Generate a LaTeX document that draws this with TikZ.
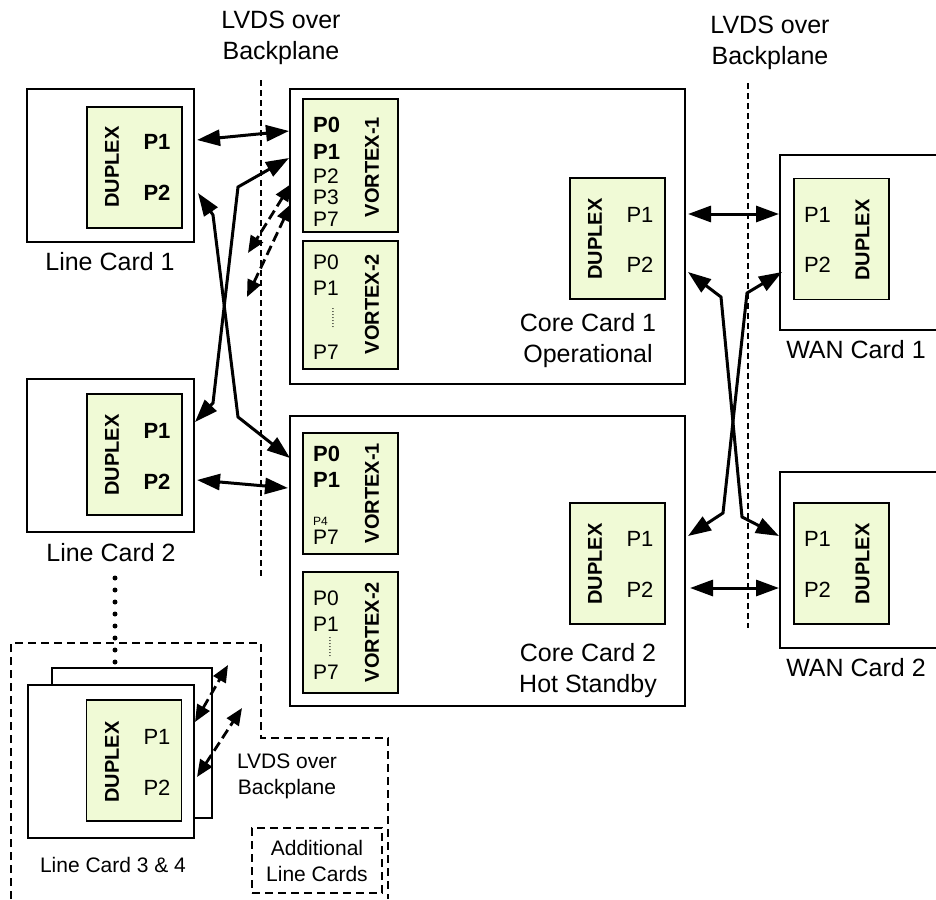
\documentclass[tikz,border=0pt]{standalone}
\usepackage{fontspec}
\setmainfont{Liberation Sans}
\usetikzlibrary{arrows.meta}
\definecolor{chipfill}{RGB}{240,250,214}
\newcommand{\bigfont}{\fontsize{25}{31}\selectfont}
\newcommand{\midfont}{\fontsize{21}{26}\selectfont}

\begin{document}
\begin{tikzpicture}[x=1pt, y=-1pt,
  card style/.style={draw, line width=1.3pt, inner sep=0pt, fill=white},
  chip style/.style={draw, line width=1.7pt, fill=chipfill, inner sep=0pt, minimum width=95, minimum height=121},
  name style/.style={inner sep=0pt, align=center, font=\bigfont},
  small style/.style={inner sep=0pt, align=center, font=\midfont},
  chip title/.style={inner sep=0pt, rotate=90, font=\bfseries\fontsize{20}{24}\selectfont},
  port style/.style={inner sep=0pt, font=\fontsize{22}{26}\selectfont},
  bold port/.style={inner sep=0pt, font=\bfseries\fontsize{22}{26}\selectfont},
  list style/.style={inner sep=0pt, anchor=west, font=\fontsize{21}{25}\selectfont},
  bold list/.style={inner sep=0pt, anchor=west, font=\bfseries\fontsize{22}{26}\selectfont},
  backplane/.style={line width=1.3pt, dash pattern=on 6pt off 4pt},
  region style/.style={line width=1.3pt, dash pattern=on 8pt off 5pt},
  link style/.style={line width=3pt, {Triangle[length=23pt,width=16pt]}-{Triangle[length=23pt,width=16pt]}},
  lvds dashed/.style={line width=2.8pt, dash pattern=on 10pt off 5pt, {Triangle[length=17pt,width=14pt]}-{Triangle[length=17pt,width=14pt]}}]
	\clip (0,0) rectangle (936,899);
	% line cards
	\node[card style, minimum width=167, minimum height=153] (LC1) at (110.5,165.5) {};
	\node[chip style] (LD1) at (134.5,167.5) {};
	\node[chip title] (LD1t) at (112,167) {DUPLEX};
	\node[bold port] (LD1a) at (157,142) {P1};
	\node[bold port] (LD1b) at (157,193) {P2};
	\node[name style] (LC1n) at (110,262) {Line Card 1};
	\node[card style, minimum width=167, minimum height=153] (LC2) at (110.5,455.5) {};
	\node[chip style] (LD2) at (134.5,454.5) {};
	\node[chip title] (LD2t) at (112,455) {DUPLEX};
	\node[bold port] (LD2a) at (157,431) {P1};
	\node[bold port] (LD2b) at (157,482) {P2};
	\node[name style] (LC2n) at (111,553) {Line Card 2};
	\node[card style, minimum width=160, minimum height=150] (LC4) at (132,743) {};
	\node[card style, minimum width=166, minimum height=153] (LC3) at (111,761.5) {};
	\node[chip style] (LD3) at (134,760.5) {};
	\node[chip title] (LD3t) at (112,762) {DUPLEX};
	\node[port style] (LD3a) at (157,737) {P1};
	\node[port style] (LD3b) at (157,788) {P2};
	\node[small style] (LC3n) at (113,865) {Line Card 3 \& 4};
	% core cards
	\node[card style, minimum width=395, minimum height=295] (CC1) at (487.5,236.5) {};
	\node[chip style, minimum height=133] (CV11) at (350.5,165.5) {};
	\node[chip title] (CV11t) at (372,167) {VORTEX-1};
	\node[bold list] (CV11p0) at (313,125) {P0};
	\node[bold list] (CV11p1) at (313,152) {P1};
	\foreach \p/\y in {2/176, 3/197, 7/219}
	\node[list style] (CV11p\p) at (313,\y) {P\p};
	\node[chip style, minimum height=128] (CV12) at (350.5,305) {};
	\node[chip title] (CV12t) at (372,304) {VORTEX-2};
	\foreach \p/\y in {0/262, 1/288, 7/352}
	\node[list style] (CV12p\p) at (313,\y) {P\p};
	\node[inner sep=0pt, rotate=90, font=\fontsize{10.5}{11}\selectfont] (CV12d) at (333,318) {.......};
	\node[chip style] (CD1) at (617.5,238.5) {};
	\node[chip title] (CD1t) at (595,239) {DUPLEX};
	\node[port style] (CD1a) at (640,215) {P1};
	\node[port style] (CD1b) at (640,265) {P2};
	\node[name style, anchor=north] (CC1n) at (588,313) {Core Card 1\\Operational};
	\node[card style, minimum width=395, minimum height=290] (CC2) at (487.5,561) {};
	\node[chip style] (CV21) at (350.5,493.5) {};
	\node[chip title] (CV21t) at (372,493) {VORTEX-1};
	\node[bold list] (CV21p0) at (313,454) {P0};
	\node[bold list] (CV21p1) at (313,480) {P1};
	\node[list style, font=\fontsize{12}{13}\selectfont] (CV21p4) at (313,521) {P4};
	\node[list style] (CV21p7) at (313,537) {P7};
	\node[chip style] (CV22) at (350.5,632.5) {};
	\node[chip title] (CV22t) at (372,632) {VORTEX-2};
	\foreach \p/\y in {0/598, 1/624, 7/672}
	\node[list style] (CV22p\p) at (313,\y) {P\p};
	\node[inner sep=0pt, rotate=90, font=\fontsize{10.5}{11}\selectfont] (CV22d) at (330,647) {.......};
	\node[chip style] (CD2) at (617.5,563.5) {};
	\node[chip title] (CD2t) at (595,564) {DUPLEX};
	\node[port style] (CD2a) at (640,539) {P1};
	\node[port style] (CD2b) at (640,590) {P2};
	\node[name style, anchor=north] (CC2n) at (588,643) {Core Card 2\\Hot Standby};
	% WAN cards
	\node[card style, minimum width=167, minimum height=175] (WC1) at (863.5,242.5) {};
	\node[chip style] (WD1) at (841.5,239) {};
	\node[chip title] (WD1t) at (862.5,240) {DUPLEX};
	\node[port style] (WD1a) at (817.5,215) {P1};
	\node[port style] (WD1b) at (817.5,265) {P2};
	\node[name style] (WC1n) at (856,350) {WAN Card 1};
	\node[card style, minimum width=167, minimum height=176] (WC2) at (863.5,560) {};
	\node[chip style] (WD2) at (841.5,563.5) {};
	\node[chip title] (WD2t) at (862.5,564) {DUPLEX};
	\node[port style] (WD2a) at (817.5,539) {P1};
	\node[port style] (WD2b) at (817.5,590) {P2};
	\node[name style] (WC2n) at (856,668) {WAN Card 2};
	% backplanes
	\node[name style, anchor=north] (BP1) at (281,11) {LVDS over\\Backplane};
	\node[name style, anchor=north] (BP2) at (770,16) {LVDS over\\Backplane};
	\node[small style, anchor=north] (BP3) at (287,754) {LVDS over\\Backplane};
	\draw[backplane] (261,80) -- (261,578);
	\draw[backplane] (748,83) -- (748,628);
	\draw[region style] (11,899) -- (11,643) -- (261,643) -- (261,738) -- (388,738) -- (388,899);
	\node[small style, draw, region style, minimum width=130, minimum height=65] (ADD) at (317,860.5) {Additional\\Line Cards};
	\draw[line width=5pt, line cap=round, dash pattern=on 0pt off 12pt] (115,578) -- (115,662);
	% port points
	\coordinate (lc1a) at (197,140);
	\coordinate (lc1b) at (198,193);
	\coordinate (lc2a) at (195,422);
	\coordinate (lc2b) at (197,480);
	\coordinate (lc3a) at (195,722);
	\coordinate (lc3b) at (197,777);
	\coordinate (cc1a) at (289,131);
	\coordinate (cc1b) at (289,158);
	\coordinate (cc1c) at (291,184);
	\coordinate (cc1d) at (291,204);
	\coordinate (cc2a) at (290,458);
	\coordinate (cc2b) at (288,488);
	\coordinate (cd1a) at (688,214);
	\coordinate (cd1b) at (688,272);
	\coordinate (cd2a) at (688,536);
	\coordinate (cd2b) at (690,588);
	\coordinate (wd1a) at (779,214);
	\coordinate (wd1b) at (782,272);
	\coordinate (wd2a) at (779,536);
	\coordinate (wd2b) at (779,588);
	\coordinate (fr1) at (248,253);
	\coordinate (fr2) at (247,297);
	\coordinate (fr3) at (228,665);
	\coordinate (fr4) at (242,708);
	% links
	\foreach \a/\b in {lc1a/cc1a, lc2b/cc2b, cd1a/wd1a, cd2b/wd2b}
	\draw[link style] (\a) -- (\b);
	\draw[link style] (lc1b) -- (213,215) -- (238,417) -- (cc2a);
	\draw[link style] (lc2a) -- (213,403) -- (238,187) -- (cc1b);
	\draw[link style] (cd1b) -- (721,297) -- (742,517) -- (wd2a);
	\draw[link style] (wd1b) -- (747,293) -- (723,513) -- (cd2a);
	\foreach \a/\b in {cc1c/fr1, cc1d/fr2, lc3a/fr3, lc3b/fr4}
	\draw[lvds dashed] (\a) -- (\b);
\end{tikzpicture}
\end{document}
